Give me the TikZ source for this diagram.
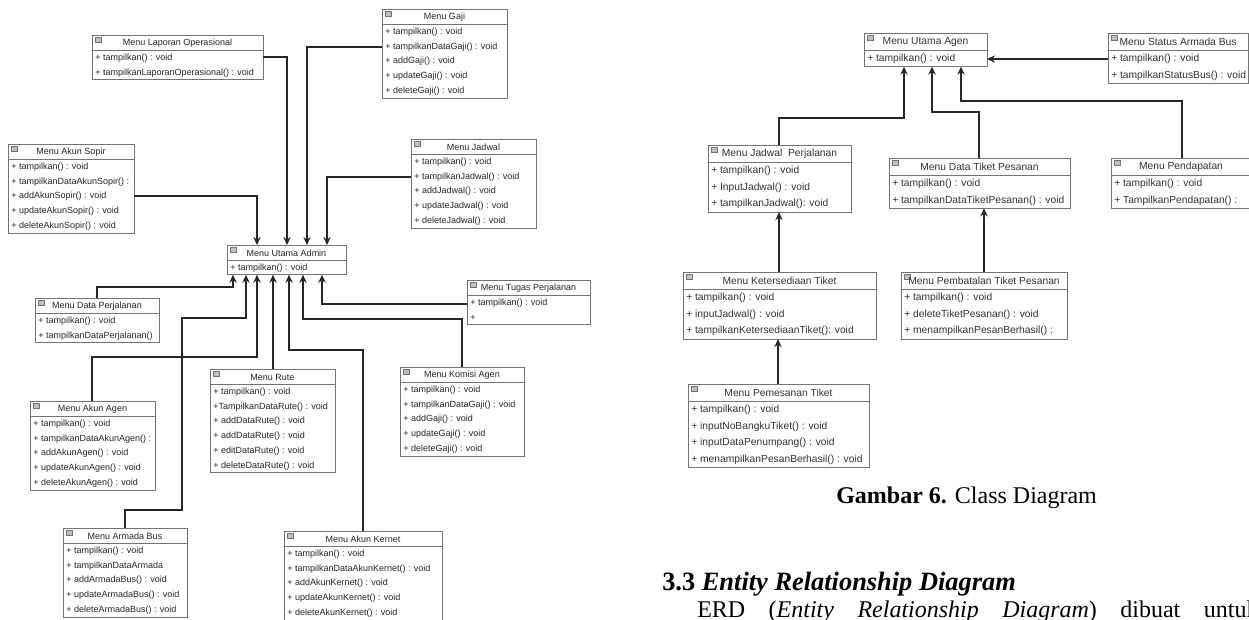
\documentclass[tikz,border=0pt]{standalone}
\usepackage{fontspec}
\setmainfont{Liberation Serif}
\setsansfont{Liberation Sans}
\usetikzlibrary{arrows.meta}
\tikzset{clsbox/.style={draw=black!55,line width=0.6pt,inner sep=0pt,outer sep=0pt,fill=white}}
\tikzset{clsline/.style={draw=black!55,line width=0.6pt}}
\tikzset{clsicon/.style={draw=black!55,fill=black!25,line width=0.3pt}}
\tikzset{clstxt/.style={font=\sffamily\fontsize{6.75}{8}\selectfont,text=black!85,inner sep=0pt}}
\tikzset{arr/.style={draw=black!85,line width=1pt,-{Stealth[length=6pt,width=5.5pt]}}}

% name, x, y, width, rows, title, row list
\newcommand{\umlclass}[7]{%
  \node[clsbox,anchor=north west,minimum width=#4*0.75pt,
        minimum height={(\hdr+#5*\stp)*0.75pt}] (#1) at (#2,#3) {};
  \draw[clsline] (#2,#3+\hdr) -- (#2+#4,#3+\hdr);
  \draw[clsicon] (#2+3,#3+2.5) rectangle ++(6,4.5);
  \node[clstxt] (#1-title) at (#2+#4/2,#3+\hdr/2+0.5) {#6};
  \foreach \row [count=\i] in {#7}
    \node[clstxt,anchor=west] (#1-r\i) at (#2+3,#3+\hdr+\i*\stp-\stp/2+0.5) {\row};
}

\begin{document}
\begin{tikzpicture}[x=0.75pt,y=-0.75pt]
      \useasboundingbox (0,0) rectangle (1249,619);
      \clip (0,0) rectangle (1249,619);

      % admin side
      \pgfmathsetmacro{\hdr}{15}
      \pgfmathsetmacro{\stp}{14.8}
      \umlclass{lapor}{92}{35}{171}{2}{Menu Laporan Operasional}{{+ tampilkan() : void},{+ tampilkanLaporanOperasional() : void}}
      \umlclass{gaji}{382}{9}{125}{5}{Menu Gaji}{{+ tampilkan() : void},{+ tampilkanDataGaji() : void},{+ addGaji() : void},{+ updateGaji() : void},{+ deleteGaji() : void}}
      \umlclass{sopir}{8}{144}{126}{5}{Menu Akun Sopir}{{+ tampilkan() : void},{+ tampilkanDataAkunSopir() :},{+ addAkunSopir() : void},{+ updateAkunSopir() : void},{+ deleteAkunSopir() : void}}
      \umlclass{jadwal}{411}{139}{125}{5}{Menu Jadwal}{{+ tampilkan() : void},{+ tampilkanJadwal() : void},{+ addJadwal() : void},{+ updateJadwal() : void},{+ deleteJadwal() : void}}
      \umlclass{admin}{227}{245}{119}{1}{Menu Utama Admin}{{+ tampilkan() : void}}
      \umlclass{dataperj}{35}{298}{124}{2}{Menu Data Perjalanan}{{+ tampilkan() : void},{+ tampilkanDataPerjalanan()}}
      \umlclass{tugas}{467}{280}{123}{2}{Menu Tugas Perjalanan}{{+ tampilkan() : void},{+}}
      \umlclass{akunagen}{30}{401}{125}{5}{Menu Akun Agen}{{+ tampilkan() : void},{+ tampilkanDataAkunAgen() :},{+ addAkunAgen() : void},{+ updateAkunAgen() : void},{+ deleteAkunAgen() : void}}
      \umlclass{rute}{210}{369}{125}{6}{Menu Rute}{{+ tampilkan() : void},{+TampilkanDataRute() : void},{+ addDataRute() : void},{+ addDataRute() : void},{+ editDataRute() : void},{+ deleteDataRute() : void}}
      \umlclass{komisi}{400}{367}{124}{5}{Menu Komisi Agen}{{+ tampilkan() : void},{+ tampilkanDataGaji() : void},{+ addGaji() : void},{+ updateGaji() : void},{+ deleteGaji() : void}}
      \umlclass{armada}{63}{528}{124}{5}{Menu Armada Bus}{{+ tampilkan() : void},{+ tampilkanDataArmada},{+ addArmadaBus() : void},{+ updateArmadaBus() : void},{+ deleteArmadaBus() : void}}
      \umlclass{kernet}{284}{531}{158}{5}{Menu Akun Kernet}{{+ tampilkan() : void},{+ tampilkanDataAkunKernet() : void},{+ addAkunKernet() : void},{+ updateAkunKernet() : void},{+ deleteAkunKernet() : void}}

      \draw[arr] (lapor.east |- 0,57) -| (287,0 |- admin.north);
      \draw[arr] (sopir.east |- 0,196) -| (257,0 |- admin.north);
      \draw[arr] (gaji.west |- 0,47) -| (307,0 |- admin.north);
      \draw[arr] (jadwal.west |- 0,177) -| (327,0 |- admin.north);
      \draw[arr] (97,0 |- dataperj.north) -- (97,287) -| (233,0 |- admin.south);
      \draw[arr] (125,0 |- armada.north) -- (125,510) -| (182,318) -| (246,0 |- admin.south);
      \draw[arr] (92,0 |- akunagen.north) -- (92,357) -| (257,0 |- admin.south);
      \draw[arr] (273,0 |- rute.north) -- (273,0 |- admin.south);
      \draw[arr] (363,0 |- kernet.north) -- (363,350) -| (289,0 |- admin.south);
      \draw[arr] (462,0 |- komisi.north) -- (462,319) -| (303,0 |- admin.south);
      \draw[arr] (tugas.west |- 0,304) -| (322,0 |- admin.south);

      % agen side
      \pgfmathsetmacro{\hdr}{17}
      \pgfmathsetmacro{\stp}{16.7}
      \tikzset{clstxt/.style={font=\sffamily\fontsize{7.7}{9}\selectfont,text=black!80,inner sep=0pt}}
      \umlclass{utamaagen}{864}{33}{123}{1}{Menu Utama Agen}{{+ tampilkan() : void}}
      \umlclass{status}{1108}{33}{140}{2}{Menu Status Armada Bus}{{+ tampilkan() : void},{+ tampilkanStatusBus() : void}}
      \umlclass{jadper}{708}{145}{143}{3}{Menu Jadwal\ \ Perjalanan}{{+ tampilkan() : void},{+ InputJadwal() : void},{+ tampilkanJadwal(): void}}
      \umlclass{datatiket}{889}{158}{181}{2}{Menu Data Tiket Pesanan}{{+ tampilkan() : void},{+ tampilkanDataTiketPesanan() : void}}
      \umlclass{pendapatan}{1111}{158}{140}{2}{Menu Pendapatan}{{+ tampilkan() : void},{+ TampilkanPendapatan() :}}
      \umlclass{sedia}{683}{272}{193}{3}{Menu Ketersediaan Tiket}{{+ tampilkan() : void},{+ inputJadwal() : void},{+ tampilkanKetersediaanTiket(): void}}
      \umlclass{batal}{901}{272}{166}{3}{Menu Pembatalan Tiket Pesanan}{{+ tampilkan() : void},{+ deleteTiketPesanan() : void},{+ menampilkanPesanBerhasil() :}}
      \umlclass{pesan}{688}{384}{181}{4}{Menu Pemesanan Tiket}{{+ tampilkan() : void},{+ inputNoBangkuTiket() : void},{+ inputDataPenumpang() : void},{+ menampilkanPesanBerhasil() : void}}

      \draw[arr] (status.west |- 0,59) -- (utamaagen.east |- 0,59);
      \draw[arr] (779,0 |- jadper.north) -- (779,118) -| (904,0 |- utamaagen.south);
      \draw[arr] (979,0 |- datatiket.north) -- (979,112) -| (932,0 |- utamaagen.south);
      \draw[arr] (1182,0 |- pendapatan.north) -- (1182,101) -| (961,0 |- utamaagen.south);
      \draw[arr] (779,0 |- sedia.north) -- (779,0 |- jadper.south);
      \draw[arr] (984,0 |- batal.north) -- (984,0 |- datatiket.south);
      \draw[arr] (778,0 |- pesan.north) -- (778,0 |- sedia.south);

      % page text
      \node[anchor=base west,inner sep=0pt,font=\fontsize{18}{20}\selectfont] (caption) at (836,503) {\textbf{Gambar 6.} Class Diagram};
      \node[anchor=base west,inner sep=0pt,font=\fontsize{19.8}{22}\selectfont\bfseries] (heading) at (662,590) {3.3 \textit{Entity Relationship Diagram}};
      \node[anchor=base west,inner sep=0pt,font=\fontsize{18}{20}\selectfont] (body) at (697,617) {\spaceskip=17.6pt ERD (\textit{Entity Relationship Diagram}) dibuat untuk};
\end{tikzpicture}
\end{document}
